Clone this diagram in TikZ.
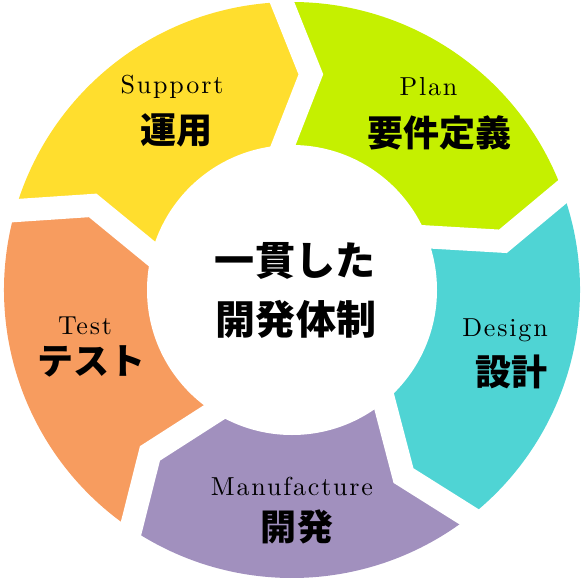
\documentclass[tikz,border=0pt]{standalone}
\usepackage{fontspec}
\newfontfamily\jp{Noto Sans CJK JP}
\newfontfamily\lab{lmroman10-regular}[Extension=.otf, LetterSpace=7]
\usetikzlibrary{calc}
\definecolor{cyel}{HTML}{FFDE2E}
\definecolor{cgrn}{HTML}{C5F000}
\definecolor{ccya}{HTML}{4FD4D4}
\definecolor{cpur}{HTML}{A190BE}
\definecolor{cora}{HTML}{F79C5F}
\tikzset{
  en/.style={font=\lab\fontsize{26}{26}\selectfont, anchor=base, inner sep=0pt},
  ja/.style={font=\jp\bfseries\fontsize{36}{36}\selectfont, inner sep=0pt},
  ctr/.style={font=\jp\bfseries\fontsize{40}{40}\selectfont, inner sep=0pt},
  gapline/.style={white, line width=23pt, line join=miter}
}
\begin{document}
\begin{tikzpicture}[x=1pt,y=1pt]
\useasboundingbox (-292,-291) rectangle (291,290);
\def\Ro{288}
\def\Ri{145}
\def\Rm{216.5}
% segments
\foreach \s/\c in {164/cyel, 92/cgrn, 20/ccya, -52/cpur, -124/cora} {
  \pgfmathsetmacro\e{\s-72}
  \fill[\c] ({\s-7}:\Rm) -- (\s:\Ro) arc[start angle=\s, end angle=\e, radius=\Ro]
    -- ({\e-7}:\Rm) -- ({\e+1.5}:\Ri) -- (0,0) -- ({\s+1.5}:\Ri) -- cycle;
}
% gaps
\foreach \b in {92,20,-52,-124,164} {
  \coordinate (O) at (\b:\Ro);
  \coordinate (M) at ({\b-7}:\Rm);
  \coordinate (I) at ({\b+1.5}:\Ri);
  \draw[gapline] ($(M)!1.5!(O)$) -- (M) -- ($(M)!1.5!(I)$);
}
\fill[white] (0,0) circle[radius=\Ri];
% labels
\node[en] (supen) at (-120,196) {Support};
\node[ja] (supja) at (-115,160) {運用};
\node[en] (planen) at (136.5,194.3) {Plan};
\node[ja] (planja) at (147,157) {要件定義};
\node[en] (desen) at (213,-46.7) {Design};
\node[ja] (desja) at (219.5,-82) {設計};
\node[en] (manen) at (0,-205) {Manufacture};
\node[ja] (manja) at (5,-237) {開発};
\node[en] (testen) at (-207,-44.3) {Test};
\node[ja] (testja) at (-200,-71.5) {テスト};
\node[ctr] (c1) at (3,29.5) {一貫した};
\node[ctr] (c2) at (4,-29.5) {開発体制};
\end{tikzpicture}
\end{document}
